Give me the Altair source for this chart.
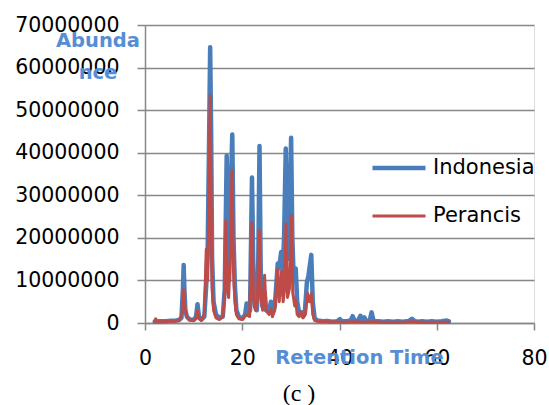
import altair as alt
import pandas as pd

# Retention time (x) and abundance in millions (y) for each series
indo_x = [2.0, 3.0, 4.0, 5.0, 6.0, 7.0, 7.5, 7.8, 7.95, 8.1, 8.3, 8.6, 9.2, 10.0, 10.5, 10.8, 11.1, 11.6,
          12.2, 12.6, 12.9, 13.2, 13.4, 13.6, 13.8, 14.1, 14.6, 15.3, 16.0, 16.4, 16.8, 17.1, 17.3, 17.6,
          17.95, 18.2, 18.5, 18.8, 19.3, 20.0, 20.6, 20.9, 21.2, 21.6, 22.0, 22.3, 22.6, 23.0, 23.3, 23.55,
          23.8, 24.1, 24.6, 24.9, 25.5, 25.9, 26.2, 26.7, 27.0, 27.3, 27.6, 28.0, 28.3, 28.6, 28.95, 29.3,
          29.6, 30.05, 30.3, 30.6, 31.0, 31.3, 31.7, 32.1, 32.5, 32.9, 33.3, 33.6, 34.2, 34.5, 34.9,
          35.5, 36.5, 37.5, 38.5, 39.5, 40.1, 40.5, 41.5, 42.3, 42.7, 43.1, 43.8, 44.3, 44.7, 45.1, 45.5,
          46.2, 46.6, 47.0, 48.0, 49.0, 50.0, 51.0, 52.0, 53.0, 54.3, 54.9, 55.4, 56.0, 57.0, 58.0, 59.0,
          60.0, 61.0, 62.1, 62.5]
indo_y = [0.3, 0.4, 0.4, 0.5, 0.5, 0.7, 1.2, 8.0, 13.6, 8.0, 3.0, 1.5, 0.8, 0.7, 1.5, 4.4, 1.5, 0.8,
          1.5, 9.0, 18.0, 45.0, 64.8, 45.0, 15.0, 5.0, 2.0, 1.2, 1.5, 8.0, 39.3, 12.0, 10.0, 30.0,
          44.3, 20.0, 8.5, 3.0, 1.5, 1.0, 2.0, 4.6, 2.0, 3.0, 34.2, 11.5, 4.0, 3.0, 15.0, 41.6,
          12.0, 4.0, 7.3, 3.0, 2.5, 5.0, 2.5, 4.0, 9.0, 14.0, 13.0, 16.7, 12.0, 20.0, 41.0, 15.0,
          20.0, 43.5, 20.0, 10.0, 12.8, 5.0, 2.5, 2.5, 1.5, 3.0, 9.6, 11.0, 16.0, 5.0, 1.0,
          0.6, 0.4, 0.5, 0.3, 0.4, 0.9, 0.4, 0.4, 0.6, 1.6, 0.5, 0.6, 1.7, 0.8, 1.3, 0.5,
          0.5, 2.5, 0.5, 0.4, 0.3, 0.4, 0.3, 0.4, 0.3, 0.5, 1.0, 0.5, 0.3, 0.4, 0.3, 0.4,
          0.3, 0.4, 0.6, 0.4]

fr_x = [2.0, 2.2, 2.5, 3.0, 4.0, 5.0, 6.0, 7.0, 7.6, 7.95, 8.2, 8.6, 9.2, 10.0, 10.5, 10.8, 11.1, 11.6,
        12.2, 12.6, 12.9, 13.2, 13.4, 13.6, 13.8, 14.1, 14.6, 15.3, 16.0, 16.3, 16.6, 16.9, 17.2, 17.5,
        17.9, 18.2, 18.5, 18.8, 19.3, 20.0, 20.9, 21.5, 22.0, 22.3, 22.7, 23.1, 23.5, 23.8, 24.2, 24.6,
        24.9, 25.5, 25.9, 26.2, 26.7, 27.3, 27.6, 28.1, 28.4, 28.7, 29.0, 29.3, 29.7, 30.1, 30.4, 30.8,
        31.0, 31.3, 31.7, 32.1, 32.5, 33.0, 33.4, 33.8, 34.2, 34.5, 34.9, 35.5, 37.0, 39.0, 41.0, 43.0,
        45.0, 47.0, 49.0, 51.0, 53.0, 55.0, 57.0, 59.0, 61.0, 62.5]
fr_y = [0.5, 1.0, 0.3, 0.3, 0.3, 0.4, 0.4, 0.6, 2.0, 7.8, 4.0, 1.5, 0.7, 0.6, 1.0, 2.8, 1.0, 0.6,
        2.0, 17.3, 10.0, 35.0, 53.4, 30.0, 8.0, 3.0, 1.2, 0.8, 1.5, 5.0, 24.0, 8.0, 6.0, 15.0,
        35.8, 12.0, 5.0, 2.0, 1.0, 0.8, 2.0, 1.5, 23.6, 6.0, 3.0, 5.0, 21.8, 6.0, 3.0, 11.2,
        3.0, 2.0, 3.3, 1.5, 3.0, 12.6, 5.0, 12.1, 5.0, 8.0, 23.3, 6.0, 8.0, 25.2, 7.0, 4.0,
        5.2, 2.0, 1.5, 2.6, 1.2, 2.0, 7.0, 5.0, 6.8, 2.0, 0.6, 0.4, 0.3, 0.3, 0.2, 0.3,
        0.2, 0.3, 0.2, 0.2, 0.2, 0.3, 0.2, 0.2, 0.2, 0.2]

series_names = ["Indonesia", "Perancis"]
series_colors = ["#4A7EBB", "#BE4B48"]
series_widths = [4.5, 3.0]
x_ticks = [0, 20, 40, 60, 80]
y_ticks = [0, 10000000, 20000000, 30000000, 40000000, 50000000, 60000000, 70000000]

rows = []
for xv, yv in zip(indo_x, indo_y):
    rows.append({"x": xv, "y": yv * 1e6, "series": "Indonesia"})
for xv, yv in zip(fr_x, fr_y):
    rows.append({"x": xv, "y": yv * 1e6, "series": "Perancis"})
df = pd.DataFrame(rows)

FONT = "DejaVu Sans"
TITLE_BLUE = "#558ED5"
GRID = "#878787"

legend = alt.Legend(
    title=None, orient="none", legendX=225, legendY=114,
    symbolType="stroke", symbolSize=2809, labelFont=FONT, labelFontSize=21,
    labelColor="black", labelOffset=5, rowPadding=10, padding=0,
)

x_enc = alt.X("x:Q", scale=alt.Scale(domain=[0, 80], nice=False),
              axis=alt.Axis(values=x_ticks, grid=False, domainColor=GRID, domainWidth=1.5,
                            tickColor=GRID, tickWidth=1.5, tickSize=7, labelFont=FONT,
                            labelFontSize=20.5, labelColor="black", labelPadding=18,
                            labelFlush=False,
                            title="Retention Time", titleFont=FONT, titleFontSize=19.5,
                            titleFontWeight="bold", titleColor=TITLE_BLUE, titleX=214,
                            titleY=40, titleBaseline="alphabetic", titleAlign="center"))
y_enc = alt.Y("y:Q", scale=alt.Scale(domain=[0, 70000000], nice=False),
              axis=alt.Axis(values=y_ticks, format="d", grid=True, gridColor=GRID, gridWidth=1.5,
                            domainColor=GRID, domainWidth=1.5, tickColor=GRID, tickWidth=1.5,
                            tickSize=8, labelFont=FONT, labelFontSize=20.5, labelColor="black",
                            labelPadding=18, labelFlush=False,
                            title=["Abunda", "nce"], titleFont=FONT, titleFontSize=19.5,
                            titleFontWeight="bold", titleColor=TITLE_BLUE, titleAngle=0,
                            titleX=-47.5, titleY=21.7, titleBaseline="alphabetic",
                            titleAlign="center", titleLineHeight=32))
color_enc = alt.Color("series:N", scale=alt.Scale(domain=series_names, range=series_colors),
                      legend=legend)
width_enc = alt.StrokeWidth("series:N", scale=alt.Scale(domain=series_names, range=series_widths),
                            legend=legend)

base = alt.Chart(df).mark_line(strokeCap="round", strokeJoin="round").encode(
    x=x_enc, y=y_enc, color=color_enc, strokeWidth=width_enc, order="x:Q")

blue = base.transform_filter(alt.datum.series == "Indonesia")
red = base.transform_filter(alt.datum.series == "Perancis")

caption = alt.Chart(pd.DataFrame({"t": ["(c )"]})).mark_text(
    font="Liberation Serif", fontSize=24, color="black", align="center", baseline="middle"
).encode(text="t:N", x=alt.value(154), y=alt.value(369))

chart = alt.layer(blue, red, caption).properties(
    width=389, height=298,
    autosize=alt.AutoSizeParams(type="none"),
    padding={"left": 145, "top": 25, "right": 15, "bottom": 82},
).configure_view(stroke=None).configure(background="white")

chart.save("out.html", embed_options={"renderer": "svg", "actions": False})
